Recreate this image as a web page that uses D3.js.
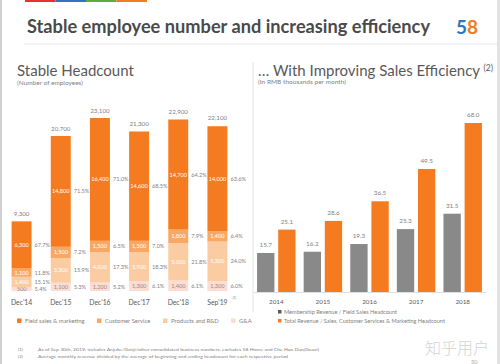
<!DOCTYPE html>
<html><head><meta charset="utf-8">
<script src="https://cdn.jsdelivr.net/npm/d3@7"></script>
<style>
body{margin:0;background:#fff;}
svg{display:block;font-family:Lato,"Open Sans",sans-serif;}
</style></head><body>
<svg id="c" width="500" height="364"></svg>
<script>
// ---- data ----
const periods = ["Dec'14","Dec'15","Dec'16","Dec'17","Dec'18","Sep'19"];
const totals = [9300,20700,23100,21300,22900,22100];
const fieldSales = [6300,14800,16400,14600,14700,14000];
const customerService = [1100,1500,1500,1500,1800,1400];
const productsRD = [1400,3300,4000,3900,5000,5300];
const gna = [500,1100,1200,1300,1400,1300];
const fieldPct = ["67.7%","71.5%","71.0%","68.5%","64.2%","63.6%"];
const csPct = ["11.8%","7.2%","6.5%","7.0%","7.9%","6.4%"];
const rdPct = ["15.1%","15.9%","17.3%","18.3%","21.8%","24.0%"];
const gnaPct = ["5.4%","5.3%","5.2%","6.1%","6.1%","6.0%"];
const segNames = ["G&A","Products and R&D","Customer Service","Field sales & marketing"];

const years = ["2014","2015","2016","2017","2018"];
const membershipEff = [15.7,16.2,19.3,25.3,31.5];
const totalEff = [25.1,28.6,36.5,49.5,68.0];
const effNames = ["Membership Revenue / Field Sales Headcount","Total Revenue / Sales, Customer Services & Marketing Headcount"];

// ---- styling ----
const segColors = ["#FCDCD3","#FBCBA2","#F8A865","#F47B20"];
const grey = "#898989", orange = "#F47B20";
const txt = "#595959", lab = "#7f7f7f";

const svg = d3.select("#c");
// frame
svg.append("rect").attr("x",0).attr("y",0).attr("width",2).attr("height",364).attr("fill","#d0d0d0");
svg.append("rect").attr("x",497).attr("y",0).attr("width",3).attr("height",364).attr("fill","#e2e2e2");
// colour strip
const strip = ["#E8312F","#2F75C5","#5BAE3C","#F47B20"];
strip.forEach((c,i)=>svg.append("rect").attr("x",25+i*30.5).attr("y",0).attr("width",30.5).attr("height",2).attr("fill",c));
// title
svg.append("text").attr("x",27).attr("y",33).attr("font-size",18).attr("font-weight","bold").attr("fill","#4a4a4a")
  .attr("textLength",403).attr("lengthAdjust","spacingAndGlyphs")
  .text("Stable employee number and increasing efficiency");
// logo 58
const logo = svg.append("text").attr("x",456).attr("y",34).attr("font-size",19).attr("font-weight","bold");
logo.append("tspan").attr("fill","#2F75C5").text("5");
logo.append("tspan").attr("fill","#F47B20").text("8");
svg.append("line").attr("x1",24).attr("x2",497).attr("y1",44).attr("y2",44).attr("stroke","#e6e6e6");

// ---- left chart ----
svg.append("text").attr("x",17).attr("y",76).attr("font-size",15).attr("fill","#595959").text("Stable Headcount");
svg.append("text").attr("x",17).attr("y",85).attr("font-size",6.3).attr("fill",lab)
  .attr("textLength",66).attr("lengthAdjust","spacingAndGlyphs").text("(Number of employees)");

const base = 291;
const xL = d3.scaleBand().domain(periods).range([2,237]).paddingInner(0.49).paddingOuter(0.245);
const yL = d3.scaleLinear().domain([0,23100]).range([base,118]);
const stacks = periods.map((p,i)=>[gna[i],productsRD[i],customerService[i],fieldSales[i]]);
const pcts = periods.map((p,i)=>[gnaPct[i],rdPct[i],csPct[i],fieldPct[i]]);
const gL = svg.append("g");
periods.forEach((p,i)=>{
  let cum=0;
  stacks[i].forEach((v,k)=>{
    const y0=yL(cum), y1=yL(cum+v);
    gL.append("rect").attr("x",xL(p)).attr("y",y1).attr("width",xL.bandwidth()).attr("height",y0-y1).attr("fill",segColors[k]);
    const cy=(y0+y1)/2+2;
    gL.append("text").attr("x",xL(p)+xL.bandwidth()/2).attr("y",cy).attr("text-anchor","middle")
      .attr("font-size",5.6).attr("fill", k===0? "#9a8a86":"#fff").text(d3.format(",")(v));
    gL.append("text").attr("x",xL(p)+xL.bandwidth()+3).attr("y",cy).attr("font-size",5.6).attr("fill",lab).text(pcts[i][k]);
    cum+=v;
  });
  gL.append("text").attr("x",xL(p)+xL.bandwidth()/2).attr("y",yL(totals[i])-5).attr("text-anchor","middle")
    .attr("font-size",6.2).attr("fill",lab).text(d3.format(",")(totals[i]));
});
const axL = svg.append("g").attr("transform",`translate(0,${base})`).call(d3.axisBottom(xL).tickSize(0).tickPadding(9));
axL.select(".domain").remove();
axL.selectAll("text").attr("font-size",6.8).attr("fill",txt).attr("font-family","Lato,sans-serif");
svg.append("text").attr("x",xL("Sep'19")+xL.bandwidth()/2+15).attr("y",299).attr("font-size",3.5).attr("fill",lab).text("(1)");

// divider
svg.append("line").attr("x1",253).attr("x2",253).attr("y1",62).attr("y2",312).attr("stroke","#d9d9d9").attr("stroke-width",0.8);

// ---- right chart ----
const st = svg.append("text").attr("x",258).attr("y",76).attr("font-size",15).attr("fill","#595959").text("\u2026 With Improving Sales Efficiency ");
st.append("tspan").attr("font-size",8.5).attr("dy",-5).text("(2)");
svg.append("text").attr("x",258).attr("y",84).attr("font-size",5.2).attr("fill",lab)
  .attr("textLength",88).attr("lengthAdjust","spacingAndGlyphs").text("(In RMB thousands per month)");

const baseR = 292;
const xR = d3.scaleBand().domain(years).range([253,486]).paddingInner(0.12).paddingOuter(0.06);
const xS = d3.scaleBand().domain([0,1]).range([0,xR.bandwidth()]).paddingInner(0.18).paddingOuter(0.06);
const yR = d3.scaleLinear().domain([0,68]).range([baseR,123]);
const gR = svg.append("g");
years.forEach((yr,i)=>{
  [membershipEff[i],totalEff[i]].forEach((v,k)=>{
    const x=xR(yr)+xS(k);
    gR.append("rect").attr("x",x).attr("y",yR(v)).attr("width",xS.bandwidth()).attr("height",baseR-yR(v)).attr("fill",k?orange:grey);
    gR.append("text").attr("x",x+xS.bandwidth()/2).attr("y",yR(v)-6).attr("text-anchor","middle").attr("font-size",6.3).attr("fill",lab).text(v.toFixed(1));
  });
});
const axR = svg.append("g").attr("transform",`translate(0,${baseR})`).call(d3.axisBottom(xR).tickSize(0).tickPadding(8));
axR.select(".domain").attr("stroke","#e0e0e0");
axR.selectAll("text").attr("font-size",6.3).attr("fill",txt).attr("font-family","Lato,sans-serif");

// legends
const legL = [3,2,1,0];
const legX = [17,97,163,231];
legL.forEach((k,j)=>{
  svg.append("rect").attr("x",legX[j]).attr("y",318.5).attr("width",4.5).attr("height",4.5).attr("fill",segColors[k]);
  svg.append("text").attr("x",legX[j]+8).attr("y",323).attr("font-size",5.9).attr("fill",lab).text(segNames[k]);
});
effNames.forEach((n,k)=>{
  svg.append("rect").attr("x",278).attr("y",310+k*9).attr("width",3.5).attr("height",3.5).attr("fill",k?orange:"#595959");
  svg.append("text").attr("x",284).attr("y",314+k*9).attr("font-size",5.6).attr("fill",lab).text(n);
});

// footnotes
const notes = ["As of Sep 30th, 2019; includes Anjuke/Ganji/other consolidated business numbers, excludes 58 Home and Che Hao Duo(Guazi)",
  "Average monthly revenue divided by the average of beginning and ending headcount for each respective period"];
const noteLen = [281,250];
notes.forEach((n,k)=>{
  svg.append("text").attr("x",18).attr("y",351+k*6.5).attr("font-size",4.3).attr("fill",lab).text(`(${k+1})`);
  svg.append("text").attr("x",38).attr("y",351+k*6.5).attr("font-size",4.3).attr("fill",lab)
    .attr("textLength",noteLen[k]).attr("lengthAdjust","spacingAndGlyphs").text(n);
});
// watermark & page number
svg.append("text").attr("x",425).attr("y",354).attr("font-size",16).attr("font-family","'Noto Sans CJK SC'").attr("font-weight",300).attr("fill","#d4d4d4").text("知乎用户");
svg.append("text").attr("x",471).attr("y",363.5).attr("font-size",5.5).attr("fill","#aaa").text("30");
</script></body></html>
